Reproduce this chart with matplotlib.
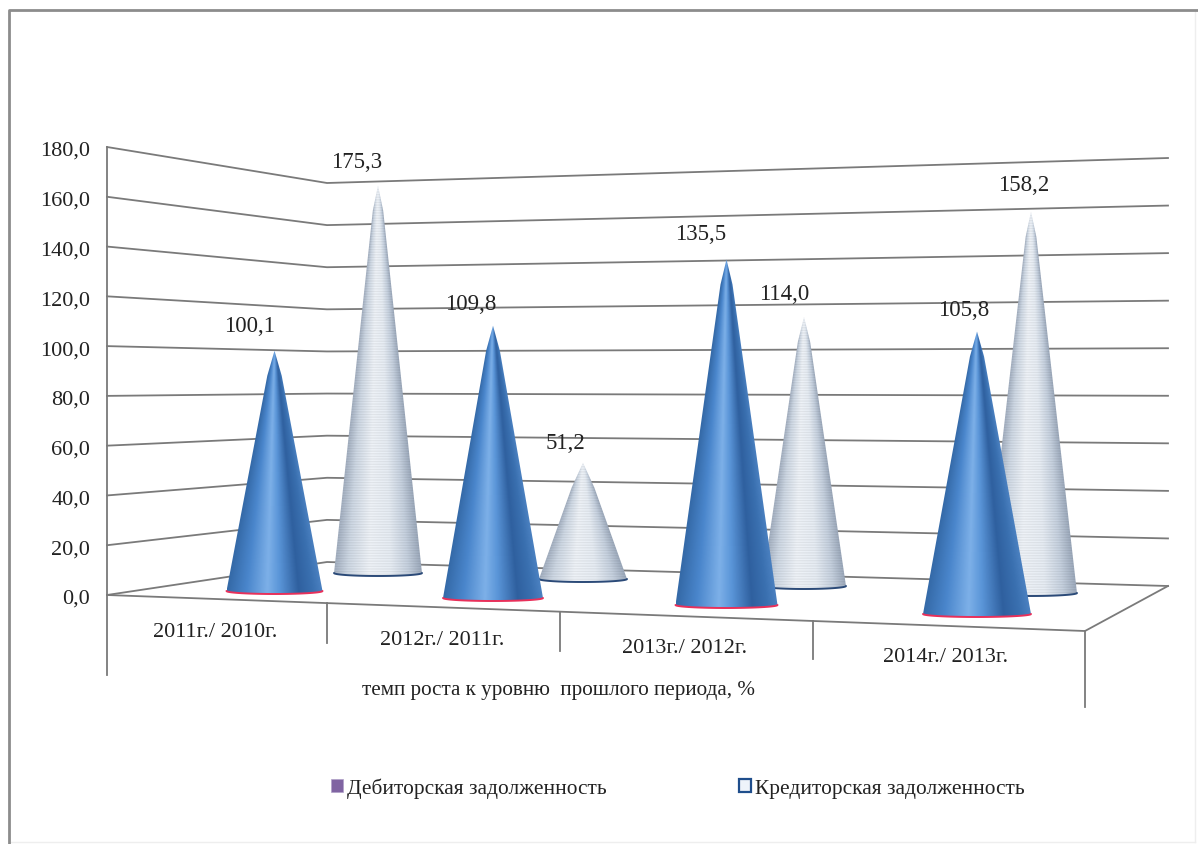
import numpy as np
import matplotlib
matplotlib.use("Agg")
import matplotlib.pyplot as plt
from matplotlib.colors import LinearSegmentedColormap
from matplotlib.patches import Patch, Polygon

plt.rcParams['font.family'] = ['Liberation Serif', 'DejaVu Serif']

categories = ["2011г./ 2010г.", "2012г./ 2011г.", "2013г./ 2012г.", "2014г./ 2013г."]
debt_in = [100.1, 109.8, 135.5, 105.8]
debt_out = [175.3, 51.2, 114.0, 158.2]
y_ticks = [0, 20, 40, 60, 80, 100, 120, 140, 160, 180]
axis_title = "темп роста к уровню  прошлого периода, %"
legend_names = ["Дебиторская задолженность", "Кредиторская задолженность"]

# picture geometry, pixels of the 1198x845 image
WALL_X = [107, 327, 1168]
WALL_Y0 = [596, 563, 587]
WALL_Y180 = [148, 184, 159]
FLOOR = [(107, 596), (1085, 632), (1168, 587)]
SEPARATORS = [(107, 596, 676), (327, 604, 644), (560, 613, 652),
              (813, 622, 660), (1085, 632, 708)]

IN_X = [274.5, 493, 726.5, 977]
IN_BASE = [592, 599, 606, 615]
IN_SCALE = [2.40, 2.48, 2.55, 2.67]
IN_HALF = [48, 50, 51, 54]
OUT_X = [378, 583, 804, 1031]
OUT_BASE = [574, 580, 587, 594]
OUT_SCALE = [2.21, 2.27, 2.36, 2.41]
OUT_HALF = [44, 44, 42, 46]

TEXT_DY = 2.5
IN_LABELS = [(250, 324), (471, 302), (701, 232), (964, 308)]
OUT_LABELS = [(357, 160), (565, 441), (784, 292), (1024, 183)]
CAT_LABELS = [(215, 630), (442, 638), (685, 646), (946, 655)]

blue_shade = LinearSegmentedColormap.from_list("blue_shade", [
    (0.0, "#356aa8"), (0.2, "#4a86cc"), (0.42, "#7db0e8"), (0.55, "#5a95d8"),
    (0.75, "#2f609f"), (0.9, "#3a70b0"), (1.0, "#4a80c0")])
pale_shade = LinearSegmentedColormap.from_list("pale_shade", [
    (0.0, "#a6b2c3"), (0.15, "#ced8e4"), (0.4, "#eff3f8"), (0.65, "#e7edf4"),
    (0.85, "#c6d1df"), (1.0, "#9eabbd")])


def wall_y(value):
    return [y0 + value * (y1 - y0) / 180 for y0, y1 in zip(WALL_Y0, WALL_Y180)]


def draw_cone(ax, x, base, top, half, cmap, rim, order, stripes=False):
    # shade runs around the cone, so it is a function of the position across the width
    tip = 2.5
    px = np.arange(x - half, x + half + 1)
    py = np.arange(top, base + 6)
    xx, yy = np.meshgrid(px, py)
    width = tip + (half - tip) * np.clip(yy - top, 0, None) / (base - top)
    shade = np.clip((xx - x) / width, -1, 1)
    rgba = cmap((shade + 1) / 2)
    if stripes:
        rgba[..., :3] *= (0.97 + 0.03 * np.sin(yy * 2.4))[..., None]
    im = ax.imshow(rgba, extent=(x - half, x + half, base + 6, top),
                   aspect='auto', interpolation='bilinear', zorder=order)
    t = np.linspace(np.pi, 0, 40)
    arc_x = x + half * np.cos(t)
    arc_y = base + 3 * np.sin(t)
    # sides start a little below the apex, the top itself stays sharp
    side = top + 25
    side_w = tip + (half - tip) * 25 / (base - top)
    outline = np.column_stack([np.r_[x, x - side_w, arc_x, x + side_w],
                               np.r_[top, side, arc_y, side]])
    clip = Polygon(outline, closed=True, transform=ax.transData)
    im.set_clip_path(clip)
    ax.plot(arc_x, arc_y, color=rim, lw=1.4, zorder=order, solid_capstyle='round')


def main():
    fig = plt.figure(figsize=(11.98, 8.45), dpi=100)
    ax = fig.add_axes([0, 0, 1, 1])

    # outer frame, the right and lower sides are barely visible
    ax.plot([1195, 1195], [11, 843], color="#eeeeee", lw=1)
    ax.plot([9, 1195], [843, 843], color="#eeeeee", lw=1)
    ax.plot([9, 9, 1198], [845, 11, 11], color="#8c8c8c", lw=2)

    for v in y_ticks:
        ax.plot(WALL_X, wall_y(v), color="#7a7a7a", lw=1.3, zorder=1)
        ax.text(90, 596 - v * 448 / 180 + 3.5, f"{v:.1f}".replace(".", ","),
                ha='right', va='center', fontsize=16, color="#222222")
    ax.plot([107, 107], [148, 596], color="#7a7a7a", lw=1.3, zorder=1)

    ax.plot(*zip(*FLOOR), color="#7a7a7a", lw=1.3, zorder=2)
    for x, y0, y1 in SEPARATORS:
        ax.plot([x, x], [y0, y1], color="#7a7a7a", lw=1.3, zorder=2)

    for i in range(len(categories)):
        top = OUT_BASE[i] - debt_out[i] * OUT_SCALE[i]
        draw_cone(ax, OUT_X[i], OUT_BASE[i], top, OUT_HALF[i], pale_shade, "#2b4a78", 3, stripes=True)
    for i in range(len(categories)):
        top = IN_BASE[i] - debt_in[i] * IN_SCALE[i]
        draw_cone(ax, IN_X[i], IN_BASE[i], top, IN_HALF[i], blue_shade, "#e8305a", 4)

    for values, places in ((debt_in, IN_LABELS), (debt_out, OUT_LABELS)):
        for v, (x, y) in zip(values, places):
            ax.text(x, y + TEXT_DY, f"{v:.1f}".replace(".", ","), ha='center', va='center',
                    fontsize=16.5, color="#222222", zorder=5)
    for name, (x, y) in zip(categories, CAT_LABELS):
        ax.text(x, y + TEXT_DY, name, ha='center', va='center', fontsize=16, color="#222222")
    ax.text(559, 688 + TEXT_DY, axis_title, ha='center', va='center', fontsize=15.2, color="#222222")

    handles = [Patch(facecolor="#8064a2", edgecolor="#b0a0c8", lw=0.5),
               Patch(facecolor="#eef3fa", edgecolor="#1f4e8c", lw=1.6)]
    ax.legend(handles, legend_names, ncol=2, frameon=False, fontsize=15.4,
              loc='center', bbox_to_anchor=(678, 789), bbox_transform=ax.transData,
              handlelength=0.55, handleheight=0.55, handletextpad=0.2, columnspacing=6.2,
              labelcolor="#222222", borderpad=0, borderaxespad=0)

    ax.set_xlim(0, 1198)
    ax.set_ylim(845, 0)
    ax.axis('off')
    fig.savefig("out.png", dpi=100, facecolor="white")


if __name__ == '__main__':
    main()
